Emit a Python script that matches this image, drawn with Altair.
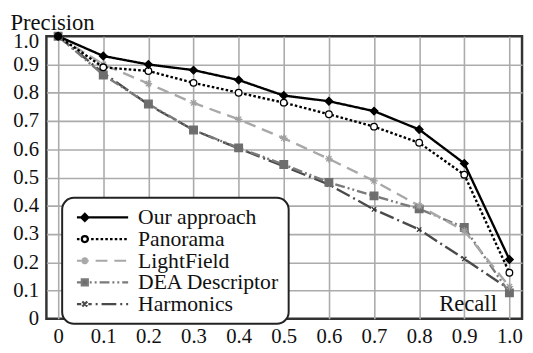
import altair as alt
import pandas as pd

# ---------------- data ----------------
recall = [0.0, 0.1, 0.2, 0.3, 0.4, 0.5, 0.6, 0.7, 0.8, 0.9, 1.0]
our_approach = [1.0, 0.93, 0.90, 0.88, 0.845, 0.79, 0.77, 0.735, 0.67, 0.55, 0.21]
panorama = [1.0, 0.89, 0.877, 0.835, 0.80, 0.765, 0.724, 0.68, 0.623, 0.51, 0.163]
lightfield = [1.0, 0.90, 0.832, 0.764, 0.706, 0.639, 0.566, 0.488, 0.40, 0.311, 0.114]
dea_descriptor = [1.0, 0.863, 0.76, 0.668, 0.605, 0.546, 0.483, 0.435, 0.389, 0.323, 0.092]
harmonics = [1.0, 0.87, 0.758, 0.668, 0.603, 0.54, 0.475, 0.387, 0.316, 0.212, 0.105]

series_names = ["Our approach", "Panorama", "LightField", "DEA Descriptor", "Harmonics"]
series_values = [our_approach, panorama, lightfield, dea_descriptor, harmonics]
tick_values = [0.0, 0.1, 0.2, 0.3, 0.4, 0.5, 0.6, 0.7, 0.8, 0.9, 1.0]

rows = []
for name, vals in zip(series_names, series_values):
    for r, p in zip(recall, vals):
        rows.append({"series": name, "recall": r, "precision": p})
df = pd.DataFrame(rows)

# ---------------- styles ----------------
line_color = {"Our approach": "#000000", "Panorama": "#000000", "LightField": "#a8a8a8",
              "DEA Descriptor": "#7a7a7a", "Harmonics": "#4a4a4a"}
line_dash = {"Our approach": [1, 0], "Panorama": [2.6, 2.2], "LightField": [12, 7],
             "DEA Descriptor": [10, 3, 2, 3, 2, 3], "Harmonics": [15, 4, 2, 4]}
marker_fill = {"Our approach": "#000000", "Panorama": "#ffffff", "LightField": "#a8a8a8",
               "DEA Descriptor": "#6e6e6e", "Harmonics": "#3a3a3a"}
marker_stroke = {"Our approach": "#000000", "Panorama": "#000000", "LightField": "#a0a0a0",
                 "DEA Descriptor": "#6e6e6e", "Harmonics": "#333333"}
ASTER = "M-1,0L1,0M0,-1L0,1M-0.7,-0.7L0.7,0.7M-0.7,0.7L0.7,-0.7"
XMARK = "M-0.8,-0.8L0.8,0.8M-0.8,0.8L0.8,-0.8"
marker_shape = {"Our approach": "diamond", "Panorama": "circle", "LightField": ASTER,
                "DEA Descriptor": "square", "Harmonics": XMARK}
marker_size = {"Our approach": 60, "Panorama": 45, "LightField": 60,
               "DEA Descriptor": 60, "Harmonics": 30}

# legend symbol paths (line + marker), symbolSize 100 -> 5 px per unit
U = 5.0
L0, L1, MC, MR = -5.0, 47.0, 3.0, 3.6


def segs(pattern):
    out = []
    pos, i, on = L0, 0, True
    while pos < L1:
        ln = pattern[i % len(pattern)]
        a, b = pos, min(pos + ln, L1)
        if on:
            for lo, hi in ((a, min(b, MC - MR)), (max(a, MC + MR), b)):
                if hi > lo:
                    out.append("M%.3f,0H%.3f" % (lo / U, hi / U))
        pos += ln
        i += 1
        on = not on
    return "".join(out)


def marker_path(kind):
    m, r = MC / U, MR / U
    if kind == "diamond":
        return "M%.3f,%.3fL%.3f,0L%.3f,%.3fL%.3f,0Z" % (m, -r, m + r, m, r, m - r)
    if kind == "circle":
        rr = r * 0.85
        return "M%.3f,0A%.3f,%.3f,0,1,1,%.3f,0A%.3f,%.3f,0,1,1,%.3f,0Z" % (
            m + rr, rr, rr, m - rr, rr, rr, m + rr)
    if kind == "square":
        s = r * 0.85
        return "M%.3f,%.3fH%.3fV%.3fH%.3fZ" % (m - s, -s, m + s, s, m - s)
    if kind == "aster":
        d = r * 0.7
        return "M%.3f,0H%.3fM%.3f,%.3fV%.3fM%.3f,%.3fL%.3f,%.3fM%.3f,%.3fL%.3f,%.3f" % (
            m - r, m + r, m, -r, r, m - d, -d, m + d, d, m - d, d, m + d, -d)
    d = r * 0.7
    return "M%.3f,%.3fL%.3f,%.3fM%.3f,%.3fL%.3f,%.3f" % (m - d, -d, m + d, d, m - d, d, m + d, -d)


legend_kind = {"Our approach": "diamond", "Panorama": "circle", "LightField": "aster",
               "DEA Descriptor": "square", "Harmonics": "x"}
legend_paths = [segs(line_dash[n] if n != "Our approach" else [100]) + marker_path(legend_kind[n])
                for n in series_names]

FONT = "Liberation Serif"

x_scale = alt.Scale(domain=[-0.026, 1.028], nice=False, zero=False)
y_scale = alt.Scale(domain=[0, 1], nice=False, zero=False)

label_expr = "datum.value == 0 ? '0' : format(datum.value, '.1f')"

x_axis = alt.Axis(values=tick_values, labelExpr=label_expr, title="Recall",
                  titleX=457, titleY=-8, titleAlign="right", titleBaseline="alphabetic",
                  domain=False, ticks=False, labelPadding=7, grid=True,
                  labelOverlap=False)
y_axis = alt.Axis(values=tick_values, labelExpr=label_expr, title="Precision",
                  titleAngle=0, titleX=-37, titleY=-7, titleAlign="left",
                  titleBaseline="alphabetic", domain=False, ticks=False, labelPadding=8,
                  grid=True, labelOverlap=False,
                  labelOffset={"condition": {"test": "datum.value >= 1", "value": 5},
                               "value": 0},
                  gridOpacity={"condition": {"test": "datum.value <= 0 || datum.value >= 1",
                                             "value": 0}, "value": 1})

X = alt.X("recall:Q", scale=x_scale, axis=x_axis)
Y = alt.Y("precision:Q", scale=y_scale, axis=y_axis)

base = alt.Chart(df)

draw_order = ["Harmonics", "DEA Descriptor", "LightField", "Panorama", "Our approach"]

layers = []
for n in draw_order:
    layers.append(
        base.transform_filter(alt.datum.series == n)
        .mark_line(color=line_color[n], strokeDash=line_dash[n], strokeWidth=2.4)
        .encode(x=X, y=Y)
    )
for n in draw_order:
    layers.append(
        base.transform_filter(alt.datum.series == n)
        .mark_point(shape=marker_shape[n], size=marker_size[n], filled=True,
                    fill=marker_fill[n], stroke=marker_stroke[n],
                    strokeWidth=1.3, opacity=1)
        .encode(x=X, y=Y)
    )

legend = alt.Legend(title=None, orient="none", legendX=16, legendY=164,
                    direction="vertical", padding=9, symbolSize=100,
                    symbolStrokeWidth=2.2, labelFont=FONT,
                    labelFontSize=22, labelColor="#111111", rowPadding=0,
                    labelOffset=46, labelLimit=400)

legend_layer = (
    base.transform_filter("false")
    .mark_point(filled=True, opacity=1, size=100)
    .encode(
        x=X, y=Y,
        shape=alt.Shape("series:N", scale=alt.Scale(domain=series_names, range=legend_paths),
                        legend=legend),
        stroke=alt.Stroke("series:N", scale=alt.Scale(domain=series_names,
                                                      range=[line_color[n] for n in series_names]),
                          legend=legend),
        fill=alt.Fill("series:N", scale=alt.Scale(domain=series_names,
                                                  range=[marker_fill[n] for n in series_names]),
                      legend=legend),
    )
)
layers.append(legend_layer)

chart = (
    alt.layer(*layers)
    .properties(width=483, height=287, autosize=alt.AutoSizeParams(type="none"),
                padding={"left": 39, "top": 26, "right": 3, "bottom": 30},
                background="white")
    .configure_view(stroke="#333333", strokeWidth=2.5)
    .configure_axis(labelFont=FONT, labelFontSize=21, labelColor="#111111",
                    titleFont=FONT, titleFontSize=23, titleFontWeight="normal",
                    titleColor="#111111", gridColor="#ababab", gridWidth=1.6)
    .configure_legend(fillColor="white", strokeColor="#222222", strokeWidth=2,
                      cornerRadius=12)
)

chart.save("out.html", embed_options={"renderer": "svg", "actions": False})
